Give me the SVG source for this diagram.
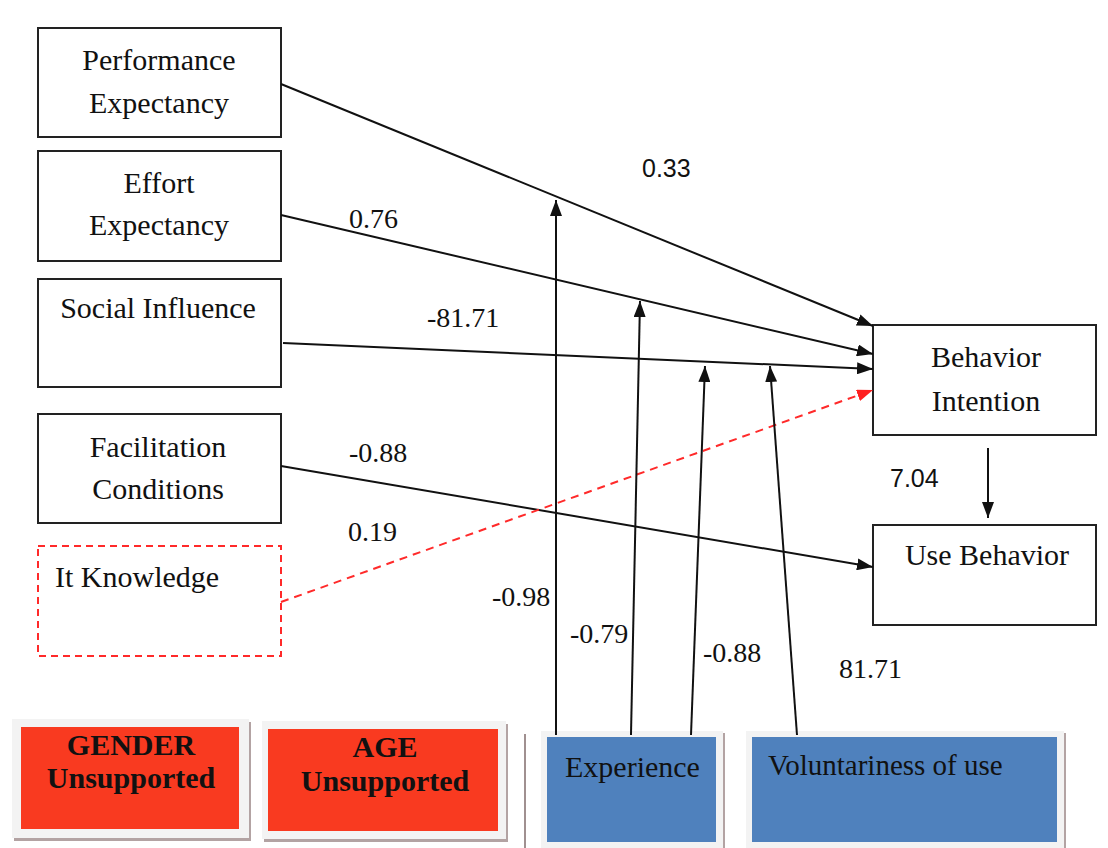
<svg xmlns="http://www.w3.org/2000/svg" width="1108" height="848" viewBox="0 0 1108 848">
<style>
.box{fill:#fff;stroke:#222;stroke-width:2}
.t{font-family:"Liberation Serif","Times New Roman",serif;font-size:30px;fill:#111}
.tb{font-family:"Liberation Serif","Times New Roman",serif;font-size:30px;font-weight:bold;fill:#111}
.ls{font-family:"Liberation Serif","Times New Roman",serif;font-size:28px;fill:#111}
.la{font-family:"Liberation Sans",Arial,sans-serif;font-size:25px;fill:#111}
.ln{stroke:#111;stroke-width:2;fill:none}
.frame{fill:#f3f3f3}
.shadow{fill:#b3a3a3}
.red{fill:#f93a20}
.blue{fill:#4f81bd}
</style>
<defs>
<marker id="ah" markerUnits="userSpaceOnUse" markerWidth="16" markerHeight="12" refX="16" refY="6" orient="auto">
<path d="M0,0 L16,6 L0,12 z" fill="#111"/>
</marker>
<marker id="ahr" markerUnits="userSpaceOnUse" markerWidth="16" markerHeight="12" refX="16" refY="6" orient="auto">
<path d="M0,0 L16,6 L0,12 z" fill="#ff2020"/>
</marker>
</defs>
<rect width="1108" height="848" fill="#fff"/>

<g id="pe"><rect class="box" x="38" y="28" width="243" height="109"/>
<text class="t" x="159" y="70" text-anchor="middle">Performance</text>
<text class="t" x="159" y="113" text-anchor="middle">Expectancy</text></g>
<g id="ee"><rect class="box" x="38" y="151" width="243" height="110"/>
<text class="t" x="159" y="193" text-anchor="middle">Effort</text>
<text class="t" x="159" y="235" text-anchor="middle">Expectancy</text></g>
<g id="si"><rect class="box" x="38" y="279" width="243" height="108"/>
<text class="t" x="158" y="318" text-anchor="middle">Social Influence</text></g>
<g id="fc"><rect class="box" x="38" y="414" width="243" height="109"/>
<text class="t" x="158" y="457" text-anchor="middle">Facilitation</text>
<text class="t" x="158" y="499" text-anchor="middle">Conditions</text></g>
<g id="it"><rect x="38" y="546" width="243" height="110" fill="#fff" stroke="#ff2a2a" stroke-width="2" stroke-dasharray="7,5"/>
<text class="t" x="55" y="587">It Knowledge</text></g>
<g id="bi"><rect class="box" x="873" y="325" width="223" height="110"/>
<text class="t" x="986" y="367" text-anchor="middle">Behavior</text>
<text class="t" x="986" y="411" text-anchor="middle">Intention</text></g>
<g id="ub"><rect class="box" x="873" y="525" width="223" height="100"/>
<text class="t" x="987" y="565" text-anchor="middle">Use Behavior</text></g>

<g id="gender"><rect class="shadow" x="14" y="722" width="237" height="119"/>
<rect class="frame" x="12" y="719" width="237" height="119"/>
<rect class="red" x="21" y="727" width="218" height="102"/>
<text class="tb" x="131" y="755" text-anchor="middle">GENDER</text>
<text class="tb" x="131" y="788" text-anchor="middle">Unsupported</text></g>
<g id="age"><rect class="shadow" x="264" y="724" width="244" height="118"/>
<rect class="frame" x="262" y="721" width="244" height="118"/>
<rect class="red" x="268" y="729" width="230" height="102"/>
<text class="tb" x="385" y="757" text-anchor="middle">AGE</text>
<text class="tb" x="385" y="791" text-anchor="middle">Unsupported</text></g>
<line x1="525" y1="734" x2="525" y2="848" stroke="#a09090" stroke-width="2"/>
<g id="experience"><rect class="shadow" x="543" y="733" width="182" height="118"/>
<rect class="frame" x="541" y="731" width="182" height="117"/>
<rect class="blue" x="547" y="737" width="169" height="105"/>
<text class="t" x="565" y="777">Experience</text></g>
<g id="voluntariness"><rect class="shadow" x="748" y="733" width="318" height="118"/>
<rect class="frame" x="746" y="731" width="318" height="117"/>
<rect class="blue" x="752" y="737" width="305" height="105"/>
<text class="t" x="768" y="775" style="font-size:29px">Voluntariness of use</text></g>

<g id="connectors">
<line class="ln" x1="281" y1="84" x2="873" y2="326" marker-end="url(#ah)"/>
<line class="ln" x1="281" y1="215" x2="873" y2="354" marker-end="url(#ah)"/>
<line class="ln" x1="283" y1="343" x2="873" y2="369" marker-end="url(#ah)"/>
<line class="ln" x1="281" y1="466" x2="873" y2="567" marker-end="url(#ah)"/>
<line x1="281" y1="602" x2="873" y2="390" stroke="#ff2a2a" stroke-width="2" stroke-dasharray="8,6" marker-end="url(#ahr)"/>
<line class="ln" x1="988" y1="448" x2="988" y2="518" marker-end="url(#ah)"/>
<line class="ln" x1="556" y1="735" x2="556" y2="200" marker-end="url(#ah)"/>
<line class="ln" x1="631" y1="735" x2="640" y2="301" marker-end="url(#ah)"/>
<line class="ln" x1="691" y1="735" x2="705" y2="366" marker-end="url(#ah)"/>
<line class="ln" x1="797" y1="735" x2="770" y2="366" marker-end="url(#ah)"/>
</g>

<g id="labels">
<text class="la" x="642" y="177">0.33</text>
<text class="ls" x="349" y="228">0.76</text>
<text class="ls" x="427" y="327">-81.71</text>
<text class="ls" x="349" y="462">-0.88</text>
<text class="ls" x="348" y="541">0.19</text>
<text class="la" x="890" y="487">7.04</text>
<text class="ls" x="492" y="606">-0.98</text>
<text class="ls" x="570" y="643">-0.79</text>
<text class="ls" x="703" y="662">-0.88</text>
<text class="ls" x="839" y="678">81.71</text>
</g>
</svg>
